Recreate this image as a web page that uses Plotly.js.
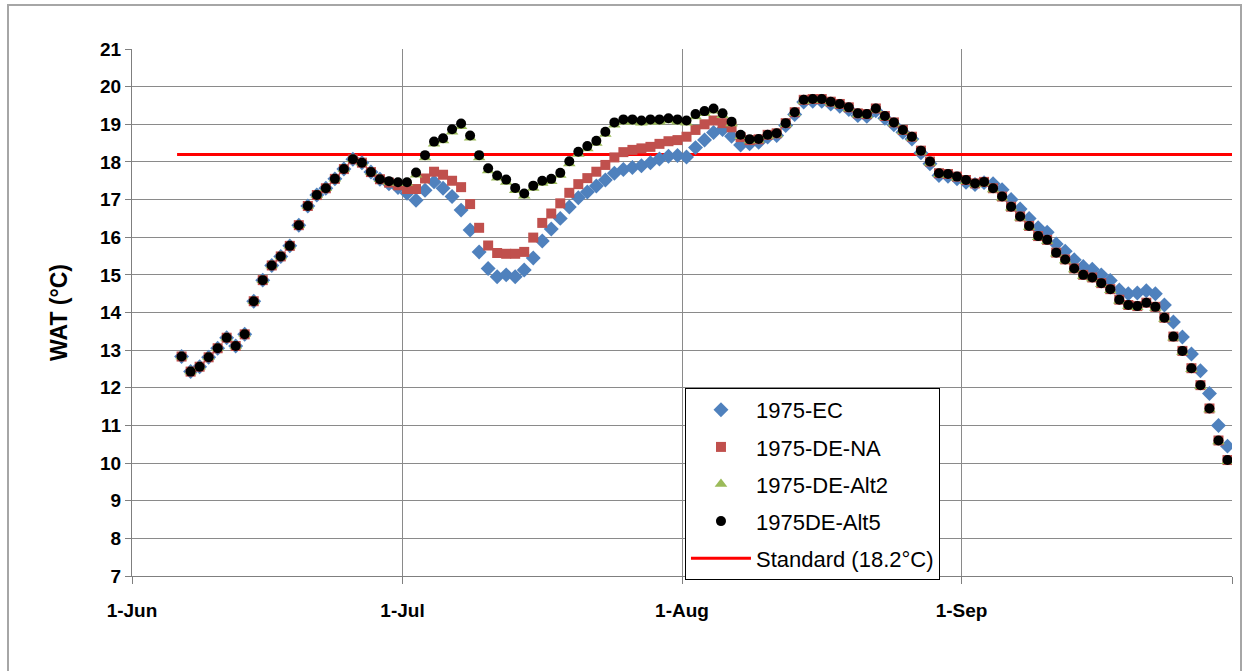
<!DOCTYPE html>
<html>
<head>
<meta charset="utf-8">
<script src="https://cdn.plot.ly/plotly-3.0.1.min.js"></script>
<style>
  html, body { margin: 0; padding: 0; background: #ffffff; }
  #wrap { position: relative; width: 1248px; height: 671px; overflow: hidden; }
  #chart { width: 1248px; height: 671px; }
  #frame { position: absolute; left: 7px; top: 4px; width: 1231px; height: 720px;
           border: 2px solid #a6a6a6; pointer-events: none; }
</style>
</head>
<body>
<div id="wrap"><div id="chart"></div><div id="frame"></div></div>
<script>
// Daily dates, 6 June – 30 September 1975
const dates = [
 '1975-06-06','1975-06-07','1975-06-08','1975-06-09','1975-06-10','1975-06-11','1975-06-12','1975-06-13','1975-06-14','1975-06-15',
 '1975-06-16','1975-06-17','1975-06-18','1975-06-19','1975-06-20','1975-06-21','1975-06-22','1975-06-23','1975-06-24','1975-06-25',
 '1975-06-26','1975-06-27','1975-06-28','1975-06-29','1975-06-30',
 '1975-07-01','1975-07-02','1975-07-03','1975-07-04','1975-07-05','1975-07-06','1975-07-07','1975-07-08','1975-07-09','1975-07-10',
 '1975-07-11','1975-07-12','1975-07-13','1975-07-14','1975-07-15','1975-07-16','1975-07-17','1975-07-18','1975-07-19','1975-07-20',
 '1975-07-21','1975-07-22','1975-07-23','1975-07-24','1975-07-25','1975-07-26','1975-07-27','1975-07-28','1975-07-29','1975-07-30','1975-07-31',
 '1975-08-01','1975-08-02','1975-08-03','1975-08-04','1975-08-05','1975-08-06','1975-08-07','1975-08-08','1975-08-09','1975-08-10',
 '1975-08-11','1975-08-12','1975-08-13','1975-08-14','1975-08-15','1975-08-16','1975-08-17','1975-08-18','1975-08-19','1975-08-20',
 '1975-08-21','1975-08-22','1975-08-23','1975-08-24','1975-08-25','1975-08-26','1975-08-27','1975-08-28','1975-08-29','1975-08-30','1975-08-31',
 '1975-09-01','1975-09-02','1975-09-03','1975-09-04','1975-09-05','1975-09-06','1975-09-07','1975-09-08','1975-09-09','1975-09-10',
 '1975-09-11','1975-09-12','1975-09-13','1975-09-14','1975-09-15','1975-09-16','1975-09-17','1975-09-18','1975-09-19','1975-09-20',
 '1975-09-21','1975-09-22','1975-09-23','1975-09-24','1975-09-25','1975-09-26','1975-09-27','1975-09-28','1975-09-29','1975-09-30'
];

const ec = [
 12.83,12.43,12.56,12.81,13.05,13.33,13.11,13.42,14.30,14.86,15.25,15.49,15.77,16.32,16.83,17.12,17.30,17.55,17.81,18.07,17.98,17.73,17.54,
 17.42,17.32,17.17,16.98,17.25,17.47,17.30,17.08,16.72,16.19,15.61,15.17,14.95,15.00,14.95,15.13,15.45,15.90,16.22,16.50,16.80,17.05,17.20,
 17.36,17.52,17.70,17.80,17.85,17.90,17.98,18.08,18.15,18.17,18.13,18.38,18.58,18.78,18.86,18.68,18.45,18.48,18.52,
 18.66,18.70,18.97,19.26,19.59,19.61,19.61,19.54,19.48,19.39,19.23,19.21,19.36,19.16,18.99,18.79,18.61,18.24,17.95,17.64,17.62,17.55,17.46,17.40,17.45,
 17.42,17.26,17.00,16.75,16.50,16.25,16.13,15.82,15.63,15.40,15.22,15.15,15.00,14.85,14.60,14.50,14.52,14.58,14.50,14.20,13.75,13.35,12.90,12.45,11.85,11.00,10.45
];

const deNA = [
 12.83,12.43,12.56,12.81,13.05,13.33,13.11,13.42,14.30,14.86,15.25,15.49,15.77,16.32,16.83,17.12,17.30,17.55,17.81,18.07,17.98,17.73,17.54,
 17.45,17.38,17.28,17.28,17.56,17.74,17.66,17.50,17.33,16.88,16.25,15.78,15.58,15.56,15.56,15.61,15.99,16.38,16.63,16.90,17.18,17.41,17.57,
 17.74,17.92,18.12,18.26,18.32,18.36,18.40,18.48,18.55,18.58,18.67,18.85,19.00,19.10,19.03,18.92,18.66,18.58,18.60,
 18.72,18.76,19.03,19.32,19.65,19.67,19.67,19.60,19.54,19.45,19.29,19.27,19.42,19.22,19.05,18.85,18.67,18.30,18.01,17.70,17.68,17.61,17.52,17.43,17.47,
 17.30,17.08,16.81,16.55,16.30,16.03,15.93,15.59,15.41,15.17,15.00,14.93,14.78,14.62,14.34,14.20,14.17,14.26,14.15,13.86,13.36,12.98,12.52,12.07,11.45,10.60,10.08
];

const deAlt2 = [
 12.83,12.43,12.56,12.81,13.05,13.33,13.11,13.42,14.30,14.86,15.25,15.49,15.77,16.32,16.83,17.12,17.30,17.55,17.81,18.07,17.98,17.73,17.54,
 17.47,17.44,17.44,17.66,18.12,18.48,18.57,18.80,18.95,18.64,18.12,17.77,17.58,17.47,17.25,17.10,17.31,17.44,17.49,17.65,17.96,18.21,18.36,
 18.50,18.74,18.99,19.07,19.07,19.04,19.07,19.07,19.10,19.07,19.04,19.21,19.29,19.36,19.24,19.02,18.68,18.57,18.58,
 18.69,18.73,19.00,19.29,19.62,19.64,19.64,19.57,19.51,19.42,19.26,19.24,19.39,19.19,19.02,18.82,18.64,18.27,17.98,17.67,17.65,17.58,17.49,17.40,17.44,
 17.27,17.05,16.78,16.52,16.27,16.00,15.90,15.56,15.38,15.14,14.97,14.90,14.75,14.59,14.31,14.17,14.14,14.23,14.12,13.83,13.33,12.95,12.49,12.04,11.42,10.57,10.05
];

const deAlt5 = [
 12.83,12.43,12.56,12.81,13.05,13.33,13.11,13.42,14.30,14.86,15.25,15.49,15.77,16.32,16.83,17.12,17.30,17.55,17.81,18.07,17.98,17.73,17.54,
 17.49,17.46,17.46,17.72,18.18,18.54,18.63,18.87,19.02,18.70,18.18,17.83,17.64,17.53,17.31,17.16,17.37,17.50,17.55,17.71,18.02,18.27,18.42,
 18.56,18.80,19.05,19.13,19.13,19.10,19.13,19.13,19.16,19.13,19.10,19.27,19.35,19.42,19.29,19.07,18.72,18.60,18.61,
 18.72,18.76,19.03,19.32,19.65,19.67,19.67,19.60,19.54,19.45,19.29,19.27,19.42,19.22,19.05,18.85,18.67,18.30,18.01,17.70,17.68,17.61,17.52,17.43,17.47,
 17.30,17.08,16.81,16.55,16.30,16.03,15.93,15.59,15.41,15.17,15.00,14.93,14.78,14.62,14.34,14.20,14.17,14.26,14.15,13.86,13.36,12.98,12.52,12.07,11.45,10.60,10.08
];

// Standard line (18.2 °C) spanning the record period
const stdDates = ['1975-06-06', '1975-10-01'];
const stdValues = [18.2, 18.2];

const seriesNames = ['1975-EC', '1975-DE-NA', '1975-DE-Alt2', '1975DE-Alt5', 'Standard (18.2°C)'];

// x tick labels
const tickDates = ['1975-06-01', '1975-07-01', '1975-08-01', '1975-09-01', '1975-10-01'];
const tickLabels = ['1-Jun', '1-Jul', '1-Aug', '1-Sep', ''];

// Excel date axis places each daily value at the middle of its day slot
const mid = arr => arr.map(d => d + ' 12:00');

const FONT = 'Liberation Sans, Arial, sans-serif';

const traces = [
  { x: stdDates, y: stdValues, name: seriesNames[4], type: 'scatter', mode: 'lines',
    line: { color: '#ff0000', width: 3 }, legendgroup: 'g5', legendrank: 5 },
  { x: mid(dates), y: ec, name: seriesNames[0], type: 'scatter', mode: 'markers',
    marker: { symbol: 'diamond', size: 11.5, color: '#4f81bd' }, legendgroup: 'g1', legendrank: 1 },
  { x: mid(dates), y: deNA, name: seriesNames[1], type: 'scatter', mode: 'markers',
    marker: { symbol: 'square', size: 10, color: '#c0504d' }, legendgroup: 'g2', legendrank: 2 },
  { x: mid(dates), y: deAlt2, name: seriesNames[2], type: 'scatter', mode: 'markers',
    marker: { symbol: 'triangle-up', size: 11, color: '#9bbb59' }, legendgroup: 'g3', legendrank: 3 },
  { x: mid(dates), y: deAlt5, name: seriesNames[3], type: 'scatter', mode: 'markers',
    marker: { symbol: 'circle', size: 10, color: '#000000' }, legendgroup: 'g4', legendrank: 4 }
];

const layout = {
  width: 1248, height: 671,
  margin: { l: 132, r: 16, t: 49, b: 95 },
  paper_bgcolor: '#ffffff', plot_bgcolor: '#ffffff',
  font: { family: FONT, color: '#000000' },
  showlegend: true,
  legend: {
    x: 0.5027, y: 0.3567, xanchor: 'left', yanchor: 'top',
    bgcolor: '#ffffff', bordercolor: '#000000', borderwidth: 1,
    font: { family: FONT, size: 22, color: '#000000' },
    traceorder: 'grouped', tracegroupgap: 5.5, itemwidth: 60
  },
  xaxis: {
    type: 'date',
    range: ['1975-06-01', '1975-10-01'],
    tickmode: 'array', tickvals: tickDates, ticktext: tickLabels,
    showgrid: true, gridcolor: '#8a8a8a', gridwidth: 1,
    showline: true, linecolor: '#7f7f7f', linewidth: 1,
    ticks: 'outside', ticklen: 7, tickcolor: '#7f7f7f',
    tickfont: { family: FONT, size: 19, color: '#000000', weight: 'bold' },
    ticklabelstandoff: 10,
    zeroline: false
  },
  yaxis: {
    range: [7, 21],
    tickmode: 'linear', tick0: 7, dtick: 1,
    showgrid: true, gridcolor: '#8a8a8a', gridwidth: 1,
    showline: true, linecolor: '#7f7f7f', linewidth: 1,
    ticks: 'outside', ticklen: 6, tickcolor: '#7f7f7f',
    tickfont: { family: FONT, size: 19, color: '#000000', weight: 'bold' },
    ticklabelstandoff: 0,
    zeroline: false,
    title: { text: 'WAT (°C)', font: { family: FONT, size: 23, color: '#000000', weight: 'bold' }, standoff: 26 }
  }
};

Plotly.newPlot('chart', traces, layout, { staticPlot: true, displayModeBar: false });
</script>
</body>
</html>
